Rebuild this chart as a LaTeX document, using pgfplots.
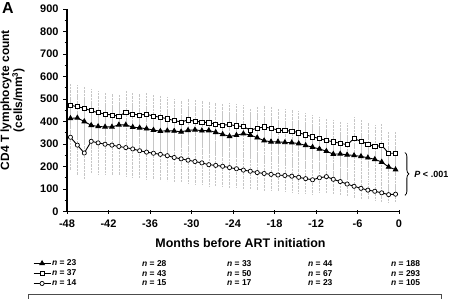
\documentclass[border=0pt]{standalone}
\usepackage{pgfplots}
\pgfplotsset{compat=1.18}
\usepackage{pgfplotstable}
\usepackage{fontspec}
\setmainfont{Liberation Sans}
\usetikzlibrary{decorations.pathreplacing}

% Mean CD4 count by month before ART initiation, three patient groups
% columns: month, triangles (filled), squares (open), circles (open)
\pgfplotstableread{
x      tri   sq    circ
-47.5  414   472   330
-46.5  416   466   295
-45.5  400   459   260
-44.5  383   448   312
-43.5  378   439   305
-42.5  376   433   299
-41.5  376   429   295
-40.5  385   424   289
-39.5  385   441   284
-38.5  375   433   278
-37.5  372   429   270
-36.5  368   432   264
-35.5  362   424   259
-34.5  357   419   254
-33.5  359   412   248
-32.5  358   404   240
-31.5  354   398   234
-30.5  361   407   228
-29.5  363   401   222
-28.5  359   398   216
-27.5  360   394   208
-26.5  352   389   205
-25.5  343   384   201
-24.5  334   386   195
-23.5  339   381   190
-22.5  346   377   184
-21.5  340   362   179
-20.5  328   370   173
-19.5  315   376   169
-18.5  310   370   165
-17.5  310   362   162
-16.5  307   359   160
-15.5  306   358   157
-14.5  302   350   152
-13.5  294   341   146
-12.5  286   332   141
-11.5  278   324   150
-10.5  268   316   155
-9.5   255   310   143
-8.5   256   303   133
-7.5   252   297   122
-6.5   249   324   112
-5.5   245   312   103
-4.5   239   300    95
-3.5   232   288    90
-2.5   220   294    83
-1.5   198   259    75
-0.5   186   259    77
}\cdfour

\begin{document}
\begin{tikzpicture}[x=1bp,y=1bp,font=\bfseries]
\useasboundingbox (0,0) rectangle (453,298);

\begin{axis}[
  at={(67bp,86.5bp)}, anchor=south west,
  scale only axis, width=332bp, height=202.5bp,
  xmin=-48, xmax=0, ymin=0, ymax=900,
  axis lines=left,
  axis line style={-, line width=1.2bp},
  clip=false,
  xtick={-48,-42,-36,-30,-24,-18,-12,-6,0},
  xticklabels={-48,-42,-36,-30,-24,-18,-12,-6,0},
  ytick={0,100,...,900},
  yticklabels={0,100,200,300,400,500,600,700,800,900},
  minor y tick num=1,
  x tick style={line width=1bp, black},
  y tick style={line width=1bp, black},
  xtick align=center,
  ytick align=outside,
  major tick length=4bp,
  minor tick length=2.5bp,
  tick label style={font=\fontsize{11}{12}\bfseries},
  xticklabel style={yshift=-2.5bp},
  yticklabel style={xshift=-1bp},
  xlabel={Months before ART initiation},
  xlabel style={font=\fontsize{12.5}{14}\bfseries, at={(axis description cs:0.5226,-0.158)}, anchor=center},
  ylabel={CD4 T lymphocyte count\\(cells/mm\textsuperscript{3})},
  ylabel style={font=\fontsize{12}{13}\bfseries, align=center, at={(axis description cs:-0.164,0.55)}, anchor=center},
  error bars/y dir=both,
  error bars/error mark=none,
  error bars/error bar style={gray!45, densely dotted, line width=0.5bp},
  legend cell align=left,
  legend style={
    at={(axis description cs:-0.102,-0.232)}, anchor=north west,
    draw=none, fill=none, inner sep=0pt, outer sep=0pt,
    font=\fontsize{8.5}{9.5}\bfseries,
    nodes={inner sep=1bp, text height=6.5bp, text depth=1.5bp},
    row sep=0pt,
  },
  legend image code/.code={
    \draw[mark repeat=2, mark phase=2] plot coordinates {(0bp,0bp) (8.5bp,0bp) (17bp,0bp)};
  },
]
% spread of the counts, drawn first so the means lie on top
\addplot[draw=none, forget plot, error bars/.cd, y explicit, y fixed=95]
  table[x=x, y=sq] {\cdfour};
\addplot[draw=none, forget plot, error bars/.cd, y explicit, y fixed=95]
  table[x=x, y=tri] {\cdfour};
\addplot[draw=none, forget plot, error bars/.cd, y fixed relative=0.45]
  table[x=x, y=circ] {\cdfour};

% group means
\addplot[black, line width=0.9bp, mark=triangle*, mark size=2.6bp,
  mark options={fill=black, solid}]
  table[x=x, y=tri] {\cdfour};
\addlegendentry{\textit{n} = 23}
\addplot[black, line width=0.9bp, mark=square*, mark size=2.1bp,
  mark options={fill=white, line width=0.7bp}]
  table[x=x, y=sq] {\cdfour};
\addlegendentry{\textit{n} = 37}
\addplot[black, line width=0.9bp, mark=*, mark size=2.1bp,
  mark options={fill=white, line width=0.7bp}]
  table[x=x, y=circ] {\cdfour};
\addlegendentry{\textit{n} = 14}

% significance bracket between the groups at ART initiation
\draw[decorate, decoration={brace, amplitude=4bp}, line width=0.8bp]
  (axis cs:0.85,262) -- (axis cs:0.85,72);
\node[anchor=west, font=\fontsize{9}{10}\bfseries]
  at (axis cs:1.7,167) {\textit{P} <\,\,.001};
\end{axis}

% panel letter
\node[anchor=north west, inner sep=0pt, font=\fontsize{16}{18}\bfseries] at (2,296) {A};

% numbers at risk for the remaining columns
\begin{scope}[font=\fontsize{8.5}{9.5}\bfseries, every node/.style={anchor=west, inner sep=0pt}]
  \node at (142,298-264) {\textit{n} = 28};
  \node at (142,298-273.5) {\textit{n} = 43};
  \node at (142,298-283) {\textit{n} = 15};
  \node at (227,298-264) {\textit{n} = 33};
  \node at (227,298-273.5) {\textit{n} = 50};
  \node at (227,298-283) {\textit{n} = 17};
  \node at (308,298-264) {\textit{n} = 44};
  \node at (308,298-273.5) {\textit{n} = 67};
  \node at (308,298-283) {\textit{n} = 23};
  \node at (391,298-264) {\textit{n} = 188};
  \node at (391,298-273.5) {\textit{n} = 293};
  \node at (391,298-283) {\textit{n} = 105};
\end{scope}

% frame of the panel below
\draw[gray!60!black, line width=0.7bp] (28,-2) -- (28,4) -- (441,4) -- (441,-2);
\end{tikzpicture}
\end{document}
